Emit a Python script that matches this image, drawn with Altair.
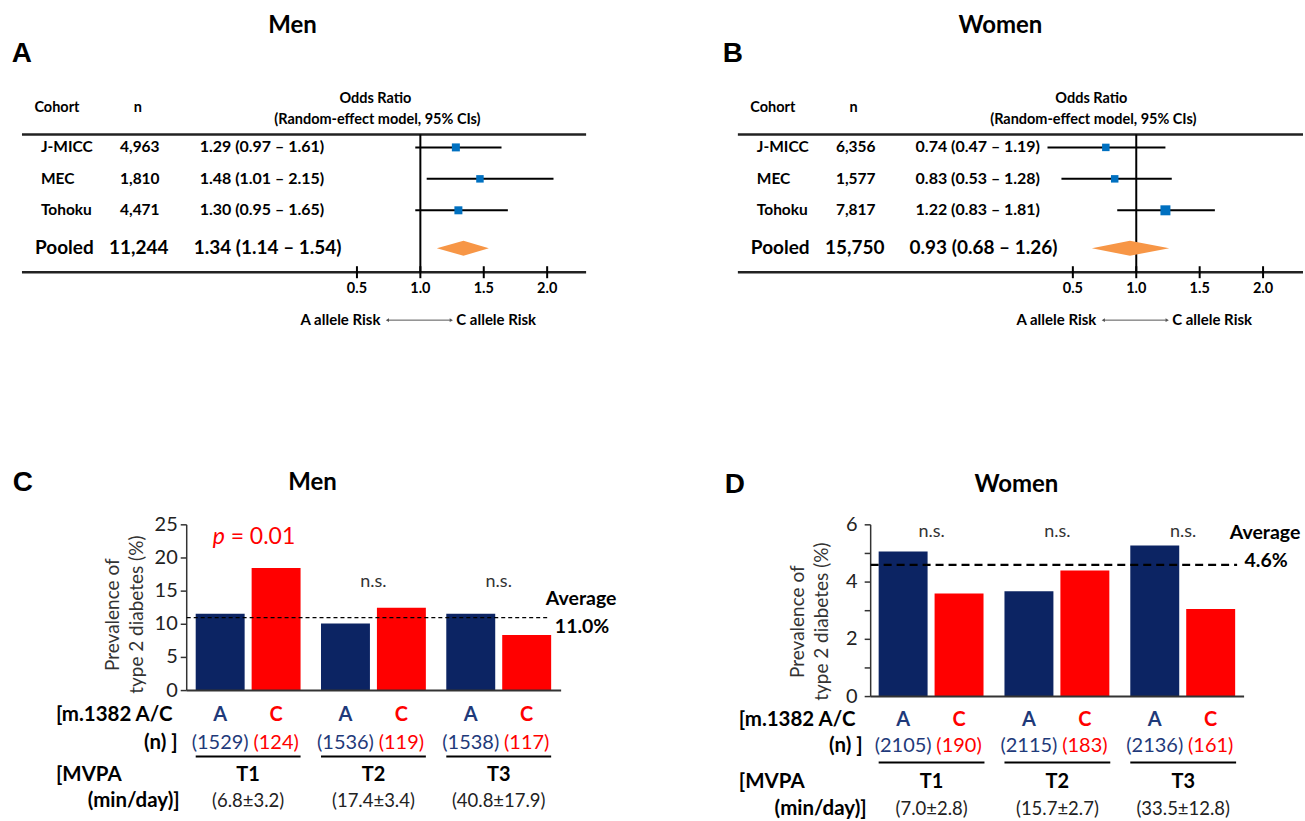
import altair as alt
import pandas as pd

# ---------------- Data ----------------
cohorts = ["J-MICC", "MEC", "Tohoku"]
or_ticks = [0.5, 1.0, 1.5, 2.0]
or_tick_labels = ["0.5", "1.0", "1.5", "2.0"]

men_n = ["4,963", "1,810", "4,471"]
men_or_label = ["1.29 (0.97 – 1.61)", "1.48 (1.01 – 2.15)", "1.30 (0.95 – 1.65)"]
men_or = [1.28, 1.47, 1.30]
men_ci_lo = [0.96, 1.05, 0.96]
men_ci_hi = [1.64, 2.05, 1.69]
men_weight = [64, 56, 64]
men_pooled_n = "11,244"
men_pooled_label = "1.34 (1.14 – 1.54)"
men_pooled = [1.13, 1.34, 1.54]

women_n = ["6,356", "1,577", "7,817"]
women_or_label = ["0.74 (0.47 – 1.19)", "0.83 (0.53 – 1.28)", "1.22 (0.83 – 1.81)"]
women_or = [0.76, 0.83, 1.23]
women_ci_lo = [0.30, 0.41, 0.85]
women_ci_hi = [1.23, 1.28, 1.62]
women_weight = [56, 56, 100]
women_pooled_n = "15,750"
women_pooled_label = "0.93 (0.68 – 1.26)"
women_pooled = [0.65, 0.95, 1.26]

tertiles = ["T1", "T2", "T3"]
alleles = ["A", "C"]
men_prev_A = [11.6, 10.1, 11.6]
men_prev_C = [18.5, 12.5, 8.4]
men_count_A = [1529, 1536, 1538]
men_count_C = [124, 119, 117]
men_mvpa = ["(6.8±3.2)", "(17.4±3.4)", "(40.8±17.9)"]
men_sig = ["p = 0.01", "n.s.", "n.s."]
men_average = 11.0
men_yticks = [0, 5, 10, 15, 20, 25]

women_prev_A = [5.07, 3.68, 5.28]
women_prev_C = [3.60, 4.40, 3.06]
women_count_A = [2105, 2115, 2136]
women_count_C = [190, 183, 161]
women_mvpa = ["(7.0±2.8)", "(15.7±2.7)", "(33.5±12.8)"]
women_sig = ["n.s.", "n.s.", "n.s."]
women_average = 4.6
women_yticks = [0, 1, 2, 3, 4, 5, 6]
women_ylabels = [0, 2, 4, 6]

FONT = "Lato"
NAVY = "#0C2463"
NAVY_TXT = "#1F3A7A"
RED = "#FF0000"
BLUE_SQ = "#0070C0"
ORANGE = "#F79646"


def one():
    return pd.DataFrame({"k": [0]})


def txt(text, x, y, size=15, weight="bold", align="center", color="black",
        style="normal", font=FONT, angle=None, line_height=None):
    kw = dict(align=align, baseline="middle", fontSize=size, fontWeight=weight,
              font=font, color=color, fontStyle=style)
    if angle is not None:
        kw["angle"] = angle
    if line_height is not None:
        kw["lineHeight"] = line_height
        kw["lineBreak"] = "\n"
    return alt.Chart(pd.DataFrame({"t": [text]})).mark_text(**kw).encode(
        x=alt.value(x), y=alt.value(y), text="t:N")


def hline(x1, x2, y, width=2.0, color="black", dash=None):
    kw = dict(color=color, strokeWidth=width)
    if dash:
        kw["strokeDash"] = dash
    return alt.Chart(one()).mark_rule(**kw).encode(
        x=alt.value(x1), x2=alt.value(x2), y=alt.value(y))


def forest(s, W, title, title_x, letter, letter_x, n_list, or_lab, est, lo, hi,
           wt, pn, plab, pooled, rule_right):
    ors = alt.Scale(domain=[0.5, 2.0], range=[357.5 + s, 548 + s], nice=False, zero=False)
    rows = alt.Scale(type="point", domain=cohorts, range=[147, 210], padding=0)
    df = pd.DataFrame({"cohort": cohorts, "n": n_list, "lab": or_lab,
                       "est": est, "lo": lo, "hi": hi, "w": wt})
    Y = alt.Y("cohort:N", scale=rows, axis=None)
    base = alt.Chart(df)
    tick_df = pd.DataFrame({"t": or_ticks, "lab": or_tick_labels})
    dia = pd.DataFrame({"x": pooled, "top": [0, 1, 0], "bot": [0, -1, 0]})
    layers = [
        txt(letter, letter_x, 53, size=28, font="Liberation Sans"),
        txt(title, title_x, 25, size=24),
        txt("Cohort", 57 + s, 108, size=14.5),
        txt("n", 138 + s, 108, size=14.5),
        txt("Odds Ratio", 376 + s, 99, size=14.5),
        txt("(Random-effect model, 95% CIs)", 378 + s, 120, size=14.5),
        hline(22 + s, rule_right, 134, 2.5, "#222"),
        hline(22 + s, rule_right, 272, 2.5, "#222"),
        alt.Chart(pd.DataFrame({"v": [1.0]})).mark_rule(color="black", strokeWidth=2).encode(
            x=alt.X("v:Q", scale=ors, axis=None), y=alt.value(134), y2=alt.value(272)),
        alt.Chart(tick_df).mark_rule(color="black", strokeWidth=2).encode(
            x=alt.X("t:Q", scale=ors, axis=None), y=alt.value(266), y2=alt.value(278)),
        alt.Chart(tick_df).mark_text(font=FONT, fontWeight="bold", fontSize=14.5, baseline="middle").encode(
            x=alt.X("t:Q", scale=ors, axis=None), y=alt.value(289), text="lab:N"),
        base.mark_text(align="left", baseline="middle", font=FONT, fontWeight="bold", fontSize=15.5).encode(
            x=alt.value(41 + s), y=Y, text="cohort:N"),
        base.mark_text(align="center", baseline="middle", font=FONT, fontWeight="bold", fontSize=15.5).encode(
            x=alt.value(140 + s), y=Y, text="n:N"),
        base.mark_text(align="left", baseline="middle", font=FONT, fontWeight="bold", fontSize=16).encode(
            x=alt.value(200 + s), y=Y, text="lab:N"),
        base.mark_rule(color="black", strokeWidth=2).encode(
            x=alt.X("lo:Q", scale=ors, axis=None), x2="hi:Q", y=Y),
        base.mark_square(color=BLUE_SQ, opacity=1).encode(
            x=alt.X("est:Q", scale=ors, axis=None), y=Y,
            size=alt.Size("w:Q", scale=None, legend=None)),
        txt("Pooled", 35 + s, 248, size=19, align="left"),
        txt(pn, 139 + s, 248, size=19),
        txt(plab, 194 + s, 248, size=19, align="left"),
        alt.Chart(dia).mark_area(color=ORANGE, orient="vertical", opacity=1).encode(
            x=alt.X("x:Q", scale=ors, axis=None),
            y=alt.Y("top:Q", scale=alt.Scale(domain=[-1, 1], range=[255.5, 240.5], nice=False, zero=False), axis=None),
            y2="bot:Q"),
        txt("A allele Risk", 381 + s, 320, size=15, align="right"),
        txt("C allele Risk", 457 + s, 320, size=15, align="left"),
        hline(388 + s, 452 + s, 320, 1, "#555"),
        alt.Chart(one()).mark_point(shape="triangle-left", filled=True, size=14, color="#555", opacity=1).encode(
            x=alt.value(388 + s), y=alt.value(320)),
        alt.Chart(one()).mark_point(shape="triangle-right", filled=True, size=14, color="#555", opacity=1).encode(
            x=alt.value(452 + s), y=alt.value(320)),
    ]
    return alt.layer(*layers).resolve_scale(y="independent").properties(width=W, height=450)


def barpanel(W, H, title, title_x, title_y, letter, letter_x, axis_x, yrange, ymax,
             yticks, ylabels, base_right, band_range, pin, prevA, prevC, cntA, cntC,
             mvpa, sig, avg, avg_dash, avg_w, avg_end, ns_y, avg_lab, pct_lab,
             rows_y, left_x, n_right, mv_right, ytitle, tick_label_right, pval=None):
    df = pd.DataFrame({
        "tert": tertiles * 2,
        "allele": ["A"] * 3 + ["C"] * 3,
        "prev": prevA + prevC,
        "cnt": [f"({c})" for c in cntA + cntC],
    })
    ys = alt.Scale(domain=[0, ymax], range=yrange, nice=False, zero=False)
    xs = alt.Scale(domain=tertiles, range=band_range, paddingInner=pin, paddingOuter=0)
    X = alt.X("tert:N", scale=xs, axis=None)
    Xc = alt.X("tert:N", scale=xs, axis=None, bandPosition=0.5)
    XO = alt.XOffset("allele:N", scale=alt.Scale(domain=alleles, paddingInner=0.125, paddingOuter=0))
    tdf = pd.DataFrame({"tert": tertiles, "mv": mvpa, "sig": sig})
    tick_df = pd.DataFrame({"v": yticks})
    lab_df = pd.DataFrame({"v": ylabels})
    ac, nrow, uline, trow, mrow = rows_y
    layers = [
        txt(letter, letter_x, title_y, size=28, font="Liberation Sans"),
        txt(title, title_x, title_y, size=24),
        alt.Chart(df).mark_bar(opacity=1).encode(
            x=X, xOffset=XO, y=alt.Y("prev:Q", scale=ys, axis=None, stack=None),
            color=alt.Color("allele:N", scale=alt.Scale(domain=alleles, range=[NAVY, RED]), legend=None)),
        # y axis
        alt.Chart(pd.DataFrame({"a": [0], "b": [ymax]})).mark_rule(color="#333", strokeWidth=1.5).encode(
            x=alt.value(axis_x), y=alt.Y("a:Q", scale=ys, axis=None), y2="b:Q"),
        alt.Chart(tick_df).mark_rule(color="#333", strokeWidth=1.5).encode(
            x=alt.value(axis_x - 6), x2=alt.value(axis_x), y=alt.Y("v:Q", scale=ys, axis=None)),
        alt.Chart(lab_df).mark_text(align="right", baseline="middle", font=FONT, fontSize=20, color="#222").encode(
            x=alt.value(tick_label_right), y=alt.Y("v:Q", scale=ys, axis=None), text="v:Q"),
        alt.Chart(pd.DataFrame({"v": [0]})).mark_rule(color="#333", strokeWidth=2).encode(
            x=alt.value(axis_x), x2=alt.value(base_right), y=alt.Y("v:Q", scale=ys, axis=None)),
        txt("Prevalence of\ntype 2 diabetes (%)", ytitle[0], ytitle[1], size=19, weight="normal",
            color="#333", angle=270, line_height=24),
        # average
        alt.Chart(pd.DataFrame({"v": [avg]})).mark_rule(color="black", strokeWidth=avg_w, strokeDash=avg_dash).encode(
            x=alt.value(axis_x), x2=alt.value(avg_end), y=alt.Y("v:Q", scale=ys, axis=None)),
        txt("Average", avg_lab[0], avg_lab[1], size=19.5),
        txt(f"{avg:.1f}%", pct_lab[0], pct_lab[1], size=19.5),
        # significance
        alt.Chart(tdf).transform_filter(alt.datum.sig == "n.s.").mark_text(
            baseline="middle", font=FONT, fontSize=18, color="#333").encode(
            x=Xc, y=alt.value(ns_y), text="sig:N"),
        # bottom labels
        alt.Chart(df).mark_text(baseline="middle", font=FONT, fontSize=20, fontWeight="bold").encode(
            x=Xc, xOffset=XO, y=alt.value(ac), text="allele:N",
            color=alt.Color("allele:N", scale=alt.Scale(domain=alleles, range=[NAVY_TXT, RED]), legend=None)),
        alt.Chart(df).mark_text(baseline="middle", font=FONT, fontSize=20).encode(
            x=Xc, xOffset=XO, y=alt.value(nrow), text="cnt:N",
            color=alt.Color("allele:N", scale=alt.Scale(domain=alleles, range=[NAVY_TXT, RED]), legend=None)),
        alt.Chart(tdf).mark_rect(color="black").encode(x=X, y=alt.value(uline - 1), y2=alt.value(uline + 1)),
        alt.Chart(tdf).mark_text(baseline="middle", font=FONT, fontSize=20, fontWeight="bold").encode(
            x=Xc, y=alt.value(trow), text="tert:N"),
        alt.Chart(tdf).mark_text(baseline="middle", font=FONT, fontSize=18.5, color="#222").encode(
            x=Xc, y=alt.value(mrow), text="mv:N"),
        txt("[m.1382 A/C", left_x, ac, size=20.5, align="left"),
        txt("(n) ]", n_right, nrow, size=20.5, align="right"),
        txt("[MVPA", left_x, trow, size=20.5, align="left"),
        txt("(min/day)]", mv_right, mrow, size=20.5, align="right"),
    ]
    if pval is not None:
        layers.append(txt("p", pval[0], pval[2], size=23, weight="normal", style="italic", color=RED, align="left"))
        layers.append(txt("= 0.01", pval[1], pval[2], size=23, weight="normal", color=RED, align="left"))
    return alt.layer(*layers).resolve_scale(color="independent").properties(width=W, height=H)


A = forest(0, 645, "Men", 293, "A", 22, men_n, men_or_label, men_or, men_ci_lo, men_ci_hi,
           men_weight, men_pooled_n, men_pooled_label, men_pooled, 587)
B = forest(72, 660, "Women", 357, "B", 89, women_n, women_or_label, women_or, women_ci_lo,
           women_ci_hi, women_weight, women_pooled_n, women_pooled_label, women_pooled, 660)

C = barpanel(645, 370, "Men", 313, 33, "C", 23, 187, [241, 75], 25, men_yticks, men_yticks, 562,
             [196, 552], 0.163, men_prev_A, men_prev_C, men_count_A, men_count_C, men_mvpa, men_sig,
             men_average, [4, 3], 1.2, 550, 132, (582, 149), (583, 177),
             (265, 294, 307, 326, 352), 56, 178, 180, (113, 165), 178, pval=(213, 231, 87))
D = barpanel(660, 370, "Women", 373, 35, "D", 91, 227, [247, 75], 6, women_yticks, women_ylabels, 601,
             [235, 593], 0.159, women_prev_A, women_prev_C, women_count_A, women_count_C, women_mvpa,
             women_sig, women_average, [8, 5], 2.2, 594, 82, (622, 83), (623, 111),
             (270, 297, 313, 333, 360), 95, 219, 223, (154, 172), 214)

chart = alt.concat(A, B, C, D, columns=2, spacing=0, bounds="flush").properties(
    padding=0, background="white").configure_view(stroke=None)

chart.save("out.html", embed_options={"renderer": "svg", "actions": False})
